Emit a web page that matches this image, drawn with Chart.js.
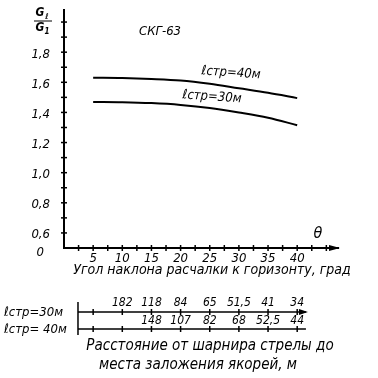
<!DOCTYPE html>
<html><head><meta charset="utf-8">
<script src="https://cdn.jsdelivr.net/npm/chart.js@4/dist/chart.umd.min.js"></script>
<style>html,body{margin:0;padding:0;background:#fff}#c{display:block}</style>
</head><body>
<canvas id="c" width="378" height="378"></canvas>
<script>
// ---- data ----
const angles = [5, 10, 15, 20, 25, 30, 35, 40];               // θ, degrees
const ratio40 = [1.63, 1.628, 1.622, 1.612, 1.59, 1.56, 1.53, 1.495]; // ℓстр = 40 м
const ratio30 = [1.47, 1.468, 1.462, 1.45, 1.43, 1.40, 1.365, 1.315]; // ℓстр = 30 м
const yTickValues = [0.6, 0.8, 1.0, 1.2, 1.4, 1.6, 1.8];
const yTickLabels = ['0,6', '0,8', '1,0', '1,2', '1,4', '1,6', '1,8'];
const xTickLabels = ['5', '10', '15', '20', '25', '30', '35', '40'];
const dist30 = [null, '182', '118', '84', '65', '51,5', '41', '34'];
const dist40 = [null, null, '148', '107', '82', '68', '52,5', '44'];

const FONT = "'DejaVu Sans Condensed', 'DejaVu Sans', sans-serif";
const f = (s, w) => `italic ${w || 'normal'} ${s}px ${FONT}`;

const decor = {
  id: 'decor',
  afterDraw(chart) {
    const ctx = chart.ctx, xs = chart.scales.x, ys = chart.scales.y;
    const x0 = xs.getPixelForValue(0), y0 = ys.getPixelForValue(0.5);
    ctx.save();
    ctx.strokeStyle = '#000'; ctx.fillStyle = '#000'; ctx.lineWidth = 1.5;
    // y minor/major tick marks across axis
    for (let v = 0.6; v <= 2.01; v += 0.1) {
      const y = ys.getPixelForValue(v);
      ctx.beginPath(); ctx.moveTo(x0 - 3, y); ctx.lineTo(x0 + 3, y); ctx.stroke();
    }
    // x tick marks
    for (let v = 2.5; v <= 45.1; v += 2.5) {
      const x = xs.getPixelForValue(v);
      ctx.beginPath(); ctx.moveTo(x, y0 - 3); ctx.lineTo(x, y0 + 3); ctx.stroke();
    }
    // arrow on x axis
    const xe = xs.getPixelForValue(xs.max);
    ctx.beginPath(); ctx.moveTo(xe + 2, y0); ctx.lineTo(xe - 9, y0 - 3); ctx.lineTo(xe - 9, y0 + 3); ctx.closePath(); ctx.fill();
    // y labels
    ctx.font = f(13); ctx.textAlign = 'right'; ctx.textBaseline = 'middle';
    yTickValues.forEach((v, i) => ctx.fillText(yTickLabels[i], x0 - 14, ys.getPixelForValue(v) + 2));
    ctx.fillText('0', x0 - 20, y0 + 5);
    // y title fraction
    ctx.textAlign = 'center';
    ctx.font = f(12, 'bold'); ctx.fillText('G', 40, 13);
    ctx.font = f(8, 'bold'); ctx.fillText('ℓ', 47, 17);
    ctx.lineWidth = 1; ctx.beginPath(); ctx.moveTo(34, 21); ctx.lineTo(52, 21); ctx.stroke();
    ctx.font = f(12, 'bold'); ctx.fillText('G', 40, 28);
    ctx.font = f(8, 'bold'); ctx.fillText('1', 47, 32);
    // x labels
    ctx.font = f(13); ctx.textAlign = 'center';
    angles.forEach((a, i) => ctx.fillText(xTickLabels[i], xs.getPixelForValue(a), y0 + 11));
    ctx.font = f(16); ctx.fillText('θ', 318, 234);
    ctx.font = f(14);
    ctx.fillText('Угол наклона расчалки к горизонту, град', 212, 270);
    ctx.font = f(13);
    ctx.fillText('СКГ-63', 160, 32);
    // curve labels
    ctx.save(); ctx.translate(231, 73); ctx.rotate(0.07); ctx.font = f(13); ctx.fillText('ℓстр=40м', 0, 0); ctx.restore();
    ctx.save(); ctx.translate(212, 97); ctx.rotate(0.07); ctx.font = f(13); ctx.fillText('ℓстр=30м', 0, 0); ctx.restore();
    // auxiliary distance scales
    const yA = 312, yB = 329;
    const xl = xs.getPixelForValue(2.4), xr = xs.getPixelForValue(41.5);
    ctx.lineWidth = 1.5;
    ctx.beginPath(); ctx.moveTo(xl, yA - 10); ctx.lineTo(xl, yB + 6); ctx.stroke();
    ctx.beginPath(); ctx.moveTo(xl, yA); ctx.lineTo(xr, yA); ctx.stroke();
    ctx.beginPath(); ctx.moveTo(xl, yB); ctx.lineTo(xr, yB); ctx.stroke();
    ctx.beginPath(); ctx.moveTo(xr + 2, yA); ctx.lineTo(xr - 7, yA - 3); ctx.lineTo(xr - 7, yA + 3); ctx.closePath(); ctx.fill();
    angles.forEach((a, i) => {
      const x = xs.getPixelForValue(a);
      ctx.beginPath(); ctx.moveTo(x, yA - 3); ctx.lineTo(x, yA + 3); ctx.stroke();
      ctx.beginPath(); ctx.moveTo(x, yB - 3); ctx.lineTo(x, yB + 3); ctx.stroke();
      ctx.font = f(12);
      if (dist30[i]) ctx.fillText(dist30[i], x, yA - 9);
      if (dist40[i]) ctx.fillText(dist40[i], x, yB - 8);
    });
    ctx.font = f(13); ctx.textAlign = 'left';
    ctx.fillText('ℓстр=30м', 4, yA + 1);
    ctx.fillText('ℓстр= 40м', 4, yB + 1);
    ctx.font = f(15); ctx.textAlign = 'center';
    ctx.fillText('Расстояние от шарнира стрелы до', 210, 346);
    ctx.fillText('места заложения якорей, м', 198, 365);
    ctx.restore();
  }
};

new Chart(document.getElementById('c'), {
  type: 'line',
  data: {
    datasets: [
      { label: 'ℓстр=40м', data: angles.map((a, i) => ({ x: a, y: ratio40[i] })) },
      { label: 'ℓстр=30м', data: angles.map((a, i) => ({ x: a, y: ratio30[i] })) }
    ]
  },
  options: {
    responsive: false, animation: false,
    layout: { padding: { left: 64, right: 40, top: 10, bottom: 130 } },
    elements: {
      line: { borderColor: '#000', borderWidth: 2, tension: 0.4, cubicInterpolationMode: 'monotone', fill: false },
      point: { radius: 0 }
    },
    plugins: { legend: { display: false }, tooltip: { enabled: false } },
    scales: {
      x: { type: 'linear', min: 0, max: 47,
        ticks: { display: false }, grid: { display: false, drawTicks: false },
        border: { display: true, color: '#000', width: 2 } },
      y: { type: 'linear', min: 0.5, max: 2.08,
        ticks: { display: false }, grid: { display: false, drawTicks: false },
        border: { display: true, color: '#000', width: 2 } }
    }
  },
  plugins: [decor]
});
</script>
</body></html>
